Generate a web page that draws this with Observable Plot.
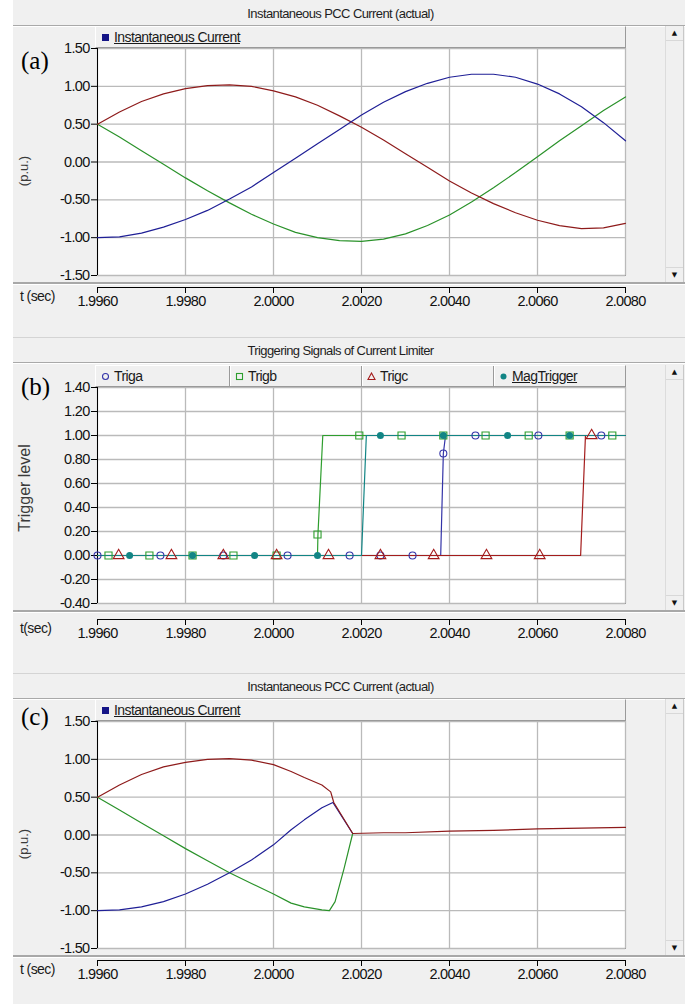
<!DOCTYPE html>
<html><head><meta charset="utf-8">
<script src="https://cdn.jsdelivr.net/npm/d3@7"></script>
<script src="https://cdn.jsdelivr.net/npm/@observablehq/plot@0.6"></script>
<style>
html,body{margin:0;padding:0;background:#fff;}
body{width:685px;height:1004px;overflow:hidden;position:relative;}
svg text{letter-spacing:-0.7px;}
</style>
</head><body>
<script>
// ---------- DATA ----------
const xTicks = [1.996, 1.998, 2.000, 2.002, 2.004, 2.006, 2.008];
const yTicksPU = [-1.5, -1.0, -0.5, 0, 0.5, 1.0, 1.5];
const yTicksTrig = [-0.4, -0.2, 0, 0.2, 0.4, 0.6, 0.8, 1.0, 1.2, 1.4];

// Panel (a): instantaneous PCC current, three phases
const tA = [1.9960,1.9965,1.9970,1.9975,1.9980,1.9985,1.9990,1.9995,2.0000,2.0005,2.0010,2.0015,2.0020,2.0025,2.0030,2.0035,2.0040,2.0045,2.0050,2.0055,2.0060,2.0065,2.0070,2.0075,2.0080];
const blueA = [-1.00,-0.99,-0.94,-0.86,-0.76,-0.64,-0.49,-0.33,-0.14,0.05,0.24,0.43,0.62,0.79,0.93,1.04,1.12,1.16,1.16,1.12,1.03,0.90,0.73,0.52,0.28];
const redA = [0.50,0.66,0.80,0.90,0.97,1.01,1.02,1.00,0.94,0.86,0.75,0.61,0.46,0.29,0.11,-0.07,-0.25,-0.41,-0.55,-0.67,-0.77,-0.84,-0.88,-0.87,-0.81];
const greenA = [0.50,0.33,0.15,-0.03,-0.21,-0.38,-0.54,-0.69,-0.82,-0.93,-1.00,-1.04,-1.05,-1.02,-0.95,-0.84,-0.70,-0.53,-0.34,-0.14,0.07,0.28,0.48,0.68,0.86];

// Panel (b): trigger signals (lines)
const trigaT = [1.9960, 2.00380, 2.00386, 2.00391, 2.0080];
const trigaV = [0, 0, 0.85, 1, 1];
const trigbT = [1.9960, 2.00100, 2.00101, 2.00112, 2.0080];
const trigbV = [0, 0, 0.175, 1, 1];
const trigcT = [1.9960, 2.00698, 2.00709, 2.0080];
const trigcV = [0, 0, 1, 1];
const magT = [1.9960, 2.00200, 2.00211, 2.0080];
const magV = [0, 0, 1, 1];
// Panel (b): marker samples
const trigaMarkT = [1.99600,1.99743,1.99886,2.00032,2.00173,2.00243,2.00316,2.00386,2.00459,2.00602,2.00745];
const trigaMarkV = [0,0,0,0,0,0,0,0.85,1,1,1];
const trigbMarkT = [1.99625,1.99718,1.99816,1.99909,2.00007,2.00100,2.00195,2.00291,2.00386,2.00482,2.00580,2.00673,2.00770];
const trigbMarkV = [0,0,0,0,0,0.175,1,1,1,1,1,1,1];
const trigcMarkT = [1.99648,1.99768,1.99886,2.00007,2.00125,2.00243,2.00364,2.00484,2.00605,2.00723];
const trigcMarkV = [0,0,0,0,0,0,0,0,0,1];
const magMarkT = [1.99673,1.99816,1.99957,2.00100,2.00243,2.00386,2.00532,2.00673];
const magMarkV = [0,0,0,0,1,1,1,1];

// Panel (c): current with limiter
const tBlueC = [1.9960,1.9965,1.9970,1.9975,1.9980,1.9985,1.9990,1.9995,2.0000,2.0004,2.0007,2.0011,2.00135,2.0018];
const blueC = [-1.00,-0.99,-0.95,-0.88,-0.78,-0.65,-0.50,-0.33,-0.13,0.07,0.20,0.36,0.43,0.02];
const tRedC = [1.9960,1.9965,1.9970,1.9975,1.9980,1.9985,1.9990,1.9995,2.0000,2.0004,2.0007,2.0011,2.0013,2.00137,2.0018,2.0025,2.0030,2.0040,2.0050,2.0060,2.0070,2.0080];
const redC = [0.50,0.66,0.80,0.90,0.96,1.00,1.01,0.99,0.93,0.84,0.76,0.66,0.57,0.43,0.02,0.03,0.03,0.05,0.06,0.08,0.09,0.10];
const tGreenC = [1.9960,1.9965,1.9970,1.9975,1.9980,1.9985,1.9990,1.9995,2.0000,2.0004,2.0007,2.0011,2.00127,2.0014,2.0016,2.0018];
const greenC = [0.50,0.33,0.16,-0.01,-0.18,-0.34,-0.50,-0.64,-0.78,-0.90,-0.95,-0.99,-1.00,-0.88,-0.45,0.02];

// ---------- STYLE ----------
const SANS = '"Liberation Sans",Arial,sans-serif';
const C = {blue:"#1f1f96", red:"#8e1b1b", green:"#2a922a",
           tBlue:"#3434a8", tGreen:"#2e9e2e", tRed:"#a41c1c", tTeal:"#128585",
           grid:"#bababa", chrome:"#f0f0f0"};

const zip = (ts, vs) => ts.map((t, i) => ({t, v: vs[i]}));
const px = v => v + "px";
function el(tag, style, text, parent) {
  const e = document.createElement(tag);
  Object.assign(e.style, style);
  if (text != null) e.textContent = text;
  (parent || document.body).appendChild(e);
  return e;
}
function sym(kind, color, size) {
  const s = size || 9, h = s / 2;
  let shape;
  if (kind === "sq") shape = `<rect x="1.5" y="1.5" width="${s-3}" height="${s-3}" fill="none" stroke="${color}" stroke-width="1.1"/>`;
  else if (kind === "fsq") shape = `<rect x="1" y="1" width="${s-2}" height="${s-2}" fill="${color}"/>`;
  else if (kind === "tri") shape = `<path d="M${h},1 L${s-1},${s-1.5} L1,${s-1.5} Z" fill="none" stroke="${color}" stroke-width="1.1"/>`;
  else if (kind === "circ") shape = `<circle cx="${h}" cy="${h}" r="${h-1.5}" fill="none" stroke="${color}" stroke-width="1.1"/>`;
  else shape = `<circle cx="${h}" cy="${h}" r="${h-1.5}" fill="${color}"/>`;
  return `<svg width="${s}" height="${s}" style="vertical-align:middle;margin-right:4px;position:relative;top:-1px">${shape}</svg>`;
}

function drawPanel(p) {
  const T = p.top;
  const legTop = p.plotTop - 22;
  const sepTop = p.plotBottom + 7;
  const axisLine = p.plotBottom + p.axisOff;
  // background
  el("div", {position:"absolute", left:"13px", top:px(T), width:"672px", height:"337px",
    background:C.chrome, borderTop: T > 0 ? "1px solid #d4d4d4" : "none", boxSizing:"border-box"});
  // title
  el("div", {position:"absolute", left:"13px", width:"655px", top:px(T + 6), textAlign:"center",
    font:"13px " + SANS, letterSpacing:"-0.6px", color:"#1e1e1e", whiteSpace:"nowrap"}, p.title);
  el("div", {position:"absolute", left:"13px", top:px(T + 25), width:"672px", height:"0",
    borderTop:"1px solid #a9a9a9", borderBottom:"1px solid #ffffff"});
  // legend bar
  const leg = el("div", {position:"absolute", left:"95px", top:px(legTop), width:"531px", height:"22px",
    boxSizing:"border-box", border:"1px solid", borderColor:"#ffffff #9a9a9a #9a9a9a #ffffff",
    background:C.chrome, zIndex:5});
  p.legend.forEach((it, i) => {
    const d = el("div", {position:"absolute", left:px(it.x - 95), top:"2px", font:"14px " + SANS, letterSpacing:"-0.6px",
      color:"#1a1a1a", whiteSpace:"nowrap"}, null, leg);
    d.innerHTML = sym(it.kind, it.color, it.size) + `<span style="text-decoration:${it.under ? "underline" : "none"}">${it.label}</span>`;
    if (i > 0) el("div", {position:"absolute", left:px(it.x - 95 - 6), top:"0px", width:"0", height:"20px",
      borderLeft:"1px solid #9a9a9a", borderRight:"1px solid #ffffff"}, null, leg);
  });
  // scrollbar
  const sb = el("div", {position:"absolute", left:"665px", top:px(legTop), width:"19px", height:px(sepTop - legTop),
    boxSizing:"border-box", borderLeft:"1px solid #dcdcdc", borderRight:"1px solid #c8c8c8", background:"#f0f0f0", zIndex:5});
  el("div", {position:"absolute", left:"0", top:"0", width:"17px", height:"14px", borderBottom:"1px solid #d8d8d8",
    font:"7px 'DejaVu Sans',sans-serif", color:"#111", textAlign:"center", lineHeight:"14px"}, "▲", sb);
  el("div", {position:"absolute", left:"0", bottom:"0", width:"17px", height:"14px", borderTop:"1px solid #d8d8d8",
    font:"7px 'DejaVu Sans',sans-serif", color:"#111", textAlign:"center", lineHeight:"14px"}, "▼", sb);
  // separator between graph and time axis
  el("div", {position:"absolute", left:"13px", top:px(sepTop), width:"672px", height:"0",
    borderTop:"2px solid #a8a8a8", borderBottom:"1px solid #ffffff", zIndex:6});
  // time label
  el("div", {position:"absolute", left:"20px", top:px(axisLine + 1), font:"14px " + SANS, letterSpacing:"-0.6px", color:"#1a1a1a",
    whiteSpace:"nowrap"}, p.xlabel);
  // panel letter
  el("div", {position:"absolute", left:"21px", top:px(p.letterY - 15), font:"25px 'Liberation Serif','Times New Roman',serif",
    color:"#000", zIndex:7}, p.letter);
  // y label (rotated)
  el("div", {position:"absolute", left:px(25 - 100), width:"200px", top:px(p.ylabelY - 9), textAlign:"center",
    font:p.ylabelFont, color:"#3a3a3a", transform:"rotate(-90deg)", transformOrigin:"100px 9px", whiteSpace:"nowrap"}, p.ylabel);

  // plot
  const mt = 8, mb = 40;
  const chart = Plot.plot({
    width: 685, height: p.plotBottom - p.plotTop + mt + mb,
    marginLeft: 97, marginRight: 60, marginTop: mt, marginBottom: mb,
    x: {domain: [1.996, 2.008]}, y: {domain: p.yDomain},
    style: {background: "transparent", fontFamily: SANS, fontSize: "14.5px", color: "#111", overflow: "visible"},
    marks: [
      Plot.frame({fill: "white", stroke: "#9c9c9c"}),
      Plot.gridX(xTicks, {stroke: C.grid, strokeOpacity: 1, strokeWidth: 1.3}),
      Plot.gridY(p.yTicks, {stroke: C.grid, strokeOpacity: 1, strokeWidth: 1.3}),
      Plot.axisY(p.yTicks, {tickFormat: d => d.toFixed(2), tickSize: 6, tickPadding: 2, label: null, stroke: "#000"}),
      Plot.ruleX([1.996], {stroke: "#000"}),
      ...p.marks,
      Plot.axisX(xTicks, {anchor: "bottom", tickFormat: d => d.toFixed(4), tickSize: 6, tickPadding: 2, dy: p.axisOff, label: null, stroke: "#000"}),
      Plot.ruleY([p.yDomain[0]], {dy: p.axisOff, stroke: "#000"})
    ]
  });
  el("div", {position:"absolute", left:"0", top:px(p.plotTop - mt), zIndex:2}).appendChild(chart);
}

const lineOpts = (color) => ({x: "t", y: "v", stroke: color, strokeWidth: 1.2});

// Panel (a)
drawPanel({
  top: 0, plotTop: 48, plotBottom: 275, axisOff: 12,
  title: "Instantaneous PCC Current (actual)", letter: "(a)", letterY: 62,
  ylabel: "(p.u.)", ylabelY: 171, ylabelFont: "13px " + SANS, xlabel: "t (sec)",
  yDomain: [-1.5, 1.5], yTicks: yTicksPU,
  legend: [{x: 100, kind: "fsq", color: "#141486", size: 9, label: "Instantaneous Current", under: true}],
  marks: [
    Plot.line(zip(tA, greenA), lineOpts(C.green)),
    Plot.line(zip(tA, redA), lineOpts(C.red)),
    Plot.line(zip(tA, blueA), lineOpts(C.blue))
  ]
});

// Panel (b)
drawPanel({
  top: 337, plotTop: 387, plotBottom: 603, axisOff: 16,
  title: "Triggering Signals of Current Limiter", letter: "(b)", letterY: 388,
  ylabel: "Trigger level", ylabelY: 488, ylabelFont: "16px " + SANS, xlabel: "t(sec)",
  yDomain: [-0.4, 1.4], yTicks: yTicksTrig,
  legend: [
    {x: 100, kind: "circ", color: C.tBlue, label: "Triga"},
    {x: 234, kind: "sq", color: C.tGreen, label: "Trigb"},
    {x: 366, kind: "tri", color: C.tRed, label: "Trigc"},
    {x: 498, kind: "fcirc", color: C.tTeal, label: "MagTrigger", under: true}
  ],
  marks: [
    Plot.line(zip(trigaT, trigaV), lineOpts(C.tBlue)),
    Plot.line(zip(trigbT, trigbV), lineOpts(C.tGreen)),
    Plot.line(zip(trigcT, trigcV), lineOpts(C.tRed)),
    Plot.line(zip(magT, magV), lineOpts(C.tTeal)),
    Plot.dot(zip(trigaMarkT, trigaMarkV), {x: "t", y: "v", symbol: "circle", r: 3.5, stroke: C.tBlue, fill: "none", strokeWidth: 1.1}),
    Plot.dot(zip(trigbMarkT, trigbMarkV), {x: "t", y: "v", symbol: "square", r: 4, stroke: C.tGreen, fill: "none", strokeWidth: 1.1}),
    Plot.dot(zip(trigcMarkT, trigcMarkV), {x: "t", y: "v", symbol: "triangle", r: 4, stroke: C.tRed, fill: "none", strokeWidth: 1.1}),
    Plot.dot(zip(magMarkT, magMarkV), {x: "t", y: "v", symbol: "circle", r: 3.5, fill: C.tTeal, stroke: "none"})
  ]
});

// Panel (c)
drawPanel({
  top: 673, plotTop: 721, plotBottom: 948, axisOff: 12,
  title: "Instantaneous PCC Current (actual)", letter: "(c)", letterY: 718,
  ylabel: "(p.u.)", ylabelY: 844, ylabelFont: "13px " + SANS, xlabel: "t (sec)",
  yDomain: [-1.5, 1.5], yTicks: yTicksPU,
  legend: [{x: 100, kind: "fsq", color: "#141486", size: 9, label: "Instantaneous Current", under: true}],
  marks: [
    Plot.line(zip(tGreenC, greenC), lineOpts(C.green)),
    Plot.line(zip(tBlueC, blueC), lineOpts(C.blue)),
    Plot.line(zip(tRedC, redC), lineOpts(C.red))
  ]
});
</script>
</body></html>
